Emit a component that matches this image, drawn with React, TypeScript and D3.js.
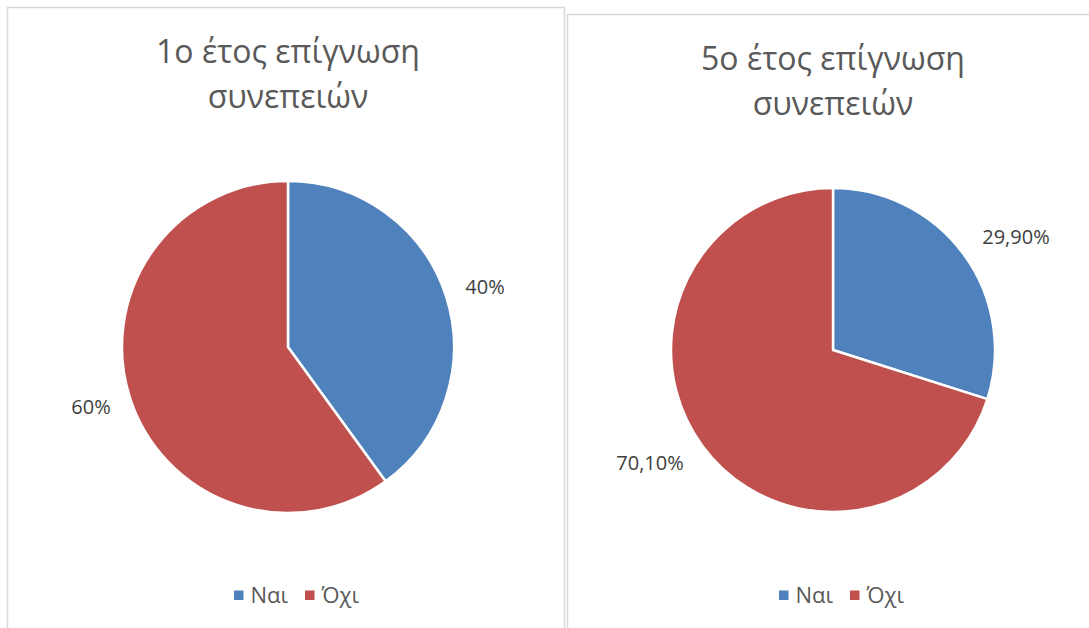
import { useEffect } from "react"
import * as d3 from "d3"

// chart data
const categories = ["Ναι", "Όχι"]
const year1Values = [40, 60]
const year1Labels = ["40%", "60%"]
const year5Values = [29.9, 70.1]
const year5Labels = ["29,90%", "70,10%"]
const titles1 = ["1ο έτος επίγνωση", "συνεπειών"]
const titles5 = ["5ο έτος επίγνωση", "συνεπειών"]

const colors = ["#4F81BD", "#C0504D"]
const FONT = "'Open Sans', 'Noto Sans', sans-serif"

type PanelProps = {
    x: number
    y: number
    w: number
    h: number
    cx: number
    cy: number
    r: number
    labelR: number
    labelRotate: number
    values: number[]
    labels: string[]
    title: string[]
    titleY: number
    legendY: number
}

function PiePanel(p: PanelProps) {
    const pie = d3.pie<number>().sort(null).value(d => d)
    const arcs = pie(p.values)
    const arc = d3.arc<d3.PieArcDatum<number>>().innerRadius(0).outerRadius(p.r)
    const rot = (p.labelRotate * Math.PI) / 180

    // legend layout
    const itemW = 71
    const lx0 = p.cx - 54

    return (
        <g>
            <rect x={p.x} y={p.y} width={p.w} height={p.h} fill="#fff" stroke="#d9d9d9" strokeWidth={1.5} />
            {p.title.map((t, i) => (
                <text key={i} x={p.cx} y={p.titleY + i * 45} textAnchor="middle"
                    fontFamily={FONT} fontSize={32} fill="#595959">{t}</text>
            ))}
            <g transform={`translate(${p.cx},${p.cy})`}>
                {arcs.map((a, i) => (
                    <path key={i} d={arc(a) || ""} fill={colors[i]} stroke="#fff" strokeWidth={2.5} strokeLinejoin="round" />
                ))}
                {arcs.map((a, i) => {
                    const mid = (a.startAngle + a.endAngle) / 2 + rot
                    const tx = Math.sin(mid) * p.labelR
                    const ty = -Math.cos(mid) * p.labelR
                    return (
                        <text key={i} x={tx} y={ty} dy="0.35em" textAnchor="middle"
                            fontFamily={FONT} fontSize={20} fill="#404040">{p.labels[i]}</text>
                    )
                })}
            </g>
            {categories.map((c, i) => (
                <g key={c} transform={`translate(${lx0 + i * itemW},${p.legendY})`}>
                    <rect x={0} y={-4.5} width={9.5} height={9.5} fill={colors[i]} />
                    <text x={16.5} y={0} dy="0.35em" fontFamily={FONT} fontSize={22} fill="#595959">{c}</text>
                </g>
            ))}
        </g>
    )
}

export default function App() {
    useEffect(() => {
        document.body.style.margin = "0"
    }, [])

    return (
        <svg width={1089} height={628} style={{ display: "block", position: "absolute", left: 0, top: 0, background: "#fff" }}>
            <PiePanel x={7.5} y={7.5} w={557} h={660} cx={288} cy={347} r={166} labelR={206} labelRotate={1}
                values={year1Values} labels={year1Labels} title={titles1} titleY={63} legendY={595} />
            <PiePanel x={567.5} y={14.5} w={560} h={660} cx={833} cy={350} r={162} labelR={215} labelRotate={4.5}
                values={year5Values} labels={year5Labels} title={titles5} titleY={70} legendY={595} />
        </svg>
    )
}
